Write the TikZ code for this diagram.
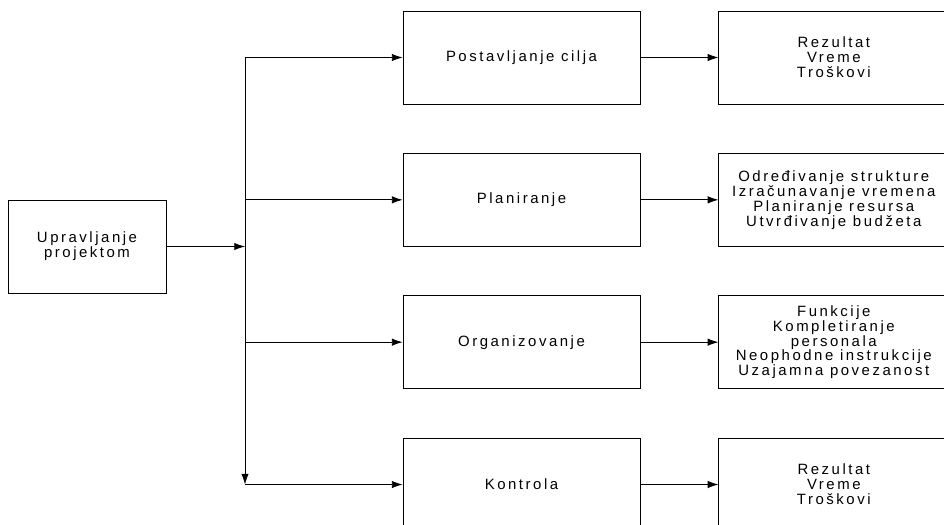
\documentclass[tikz,border=0pt]{standalone}
\usepackage{fontspec}
\setmainfont{Liberation Sans}[LetterSpace=17]
\usetikzlibrary{arrows.meta,positioning}

\begin{document}
\begin{tikzpicture}[x=0.75pt,y=-0.75pt,->,>={Latex[length=8pt,width=5.5pt]},
                    line width=0.6pt,node distance=36.4pt and 58.5pt,
                    box/.style={draw,rectangle,align=center,inner sep=2pt,minimum height=69.75pt,
                                font=\fontsize{11.2}{11.2}\selectfont},
                    mid box/.style={box,minimum width=177.75pt},
                    res box/.style={box,minimum width=172.5pt}]

    \clip (0,0) rectangle (944,524);

    \node[box,minimum width=118.5pt] (upr) at (87,246.5) {Upravljanje\\projektom};

    \node[mid box] (cilj) at (521.5,57.5) {Postavljanje cilja};
    \node[mid box] (plan) [below=of cilj] {Planiranje};
    \node[mid box] (org) [below=of plan] {Organizovanje};
    \node[mid box] (kontr) [below=of org] {Kontrola};

    \node[res box] (rez1) [right=of cilj] {Rezultat\\Vreme\\Troškovi};
    \node[res box] (struk) [right=of plan] {Određivanje strukture\\Izračunavanje vremena\\Planiranje resursa\\Utvrđivanje budžeta};
    \node[res box] (funk) [right=of org] {Funkcije\\Kompletiranje\\personala\\Neophodne instrukcije\\Uzajamna povezanost};
    \node[res box] (rez2) [right=of kontr] {Rezultat\\Vreme\\Troškovi};

    \coordinate (hub) at (245,246.5);
    \coordinate (b1) at (hub |- cilj);
    \coordinate (b2) at (hub |- plan);
    \coordinate (b3) at (hub |- org);
    \coordinate (b4) at (hub |- kontr);

    \path (upr) edge (hub)
          (b1) edge (b4)
          (b1) edge (cilj)
          (b2) edge (plan)
          (b3) edge (org)
          (b4) edge (kontr)
          (cilj) edge (rez1)
          (plan) edge (struk)
          (org) edge (funk)
          (kontr) edge (rez2);
\end{tikzpicture}
\end{document}
